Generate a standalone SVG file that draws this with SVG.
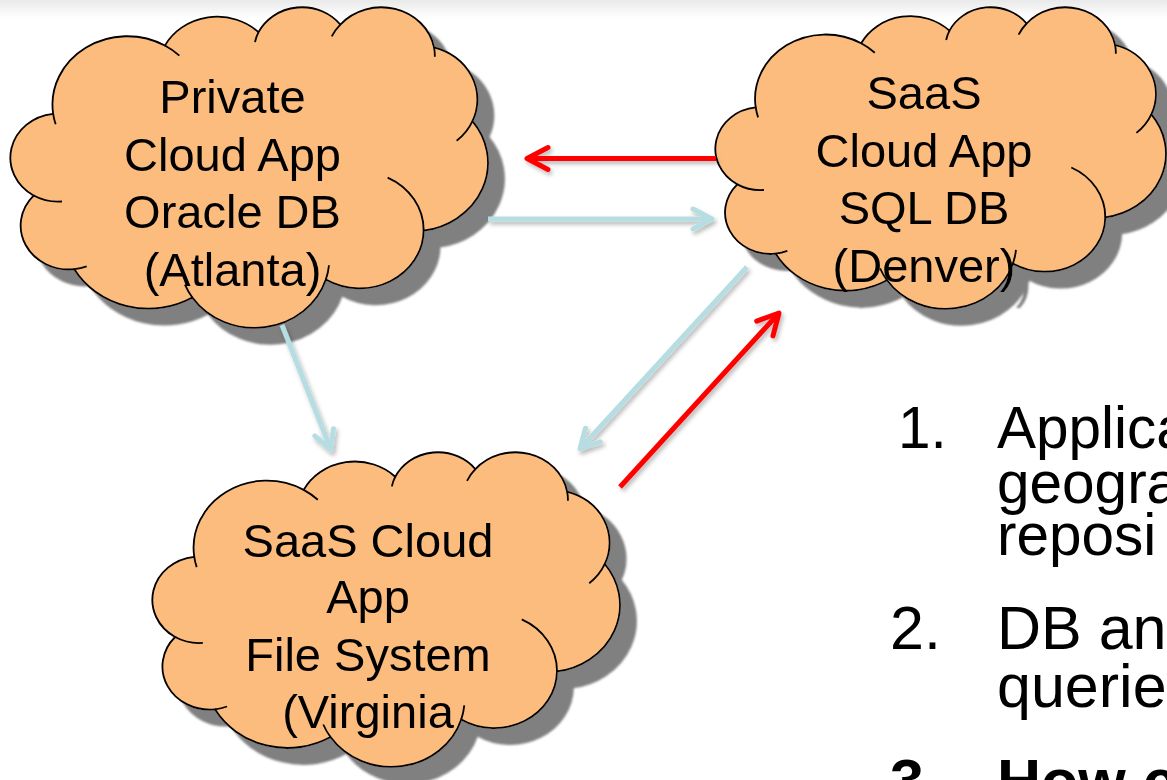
<svg xmlns="http://www.w3.org/2000/svg" xmlns:xlink="http://www.w3.org/1999/xlink" width="1167" height="780" viewBox="0 0 1167 780">
  <style>
    .body { fill: #FCBC7E; stroke: #000000; }
    .crease { fill: none; stroke: #000000; }
    .label { font-family: "Liberation Sans", Arial, sans-serif; font-size: 47px; fill: #000000; text-anchor: middle; }
    .item { font-family: "Liberation Sans", Arial, sans-serif; font-size: 61px; fill: #000000; }
    .first { font-size: 58.5px; }
    .bold { font-weight: bold; }
    .link-red { fill: none; stroke: #FF0000; stroke-width: 5; }
    .link-blue { fill: none; stroke: #B6DDE1; stroke-width: 5; }
  </style>
  <defs>
    <linearGradient id="topShade" x1="0" y1="0" x2="0" y2="1">
      <stop offset="0" stop-color="#E9E9E9"/>
      <stop offset="1" stop-color="#FFFFFF"/>
    </linearGradient>

    <!-- cloud outline drawn in a 43200 x 43200 unit box -->
    <path id="cloud-body" vector-effect="non-scaling-stroke" stroke-width="1.8"
      d="M3900,14370 A6753,9190 0 0 1 14000,5192 A5333,7267 0 0 1 22460,3390 A4365,5945 0 0 1 29850,2360 A4857,6595 0 0 1 38324,5426 A5333,7273 0 0 1 41798,15354 A6775,9220 0 0 1 37384,30098 A5785,7867 0 0 1 28545,36680 A6752,9215 0 0 1 16478,39090 A7720,10543 0 0 1 5810,35290 A4360,5918 0 0 1 2135,25372 A4345,5945 0 0 1 3900,14370 Z"/>
    <!-- inner puff lines of the cloud -->
    <path id="cloud-creases" vector-effect="non-scaling-stroke" stroke-width="1.8"
      d="M4693,26177 A4345,5945 0 0 1 2135,25372 M6928,34899 A4360,5918 0 0 1 5810,35290 M16478,39090 A6752,9215 0 0 1 15809,37371 M28827,34751 A6752,9215 0 0 1 28545,36680 M34129,22954 A5785,7867 0 0 1 37384,30098 M41798,15354 A5333,7273 0 0 1 40364,18007 M38324,5426 A4857,6595 0 0 1 38392,6695 M29078,3952 A4857,6595 0 0 1 29850,2360 M22141,4720 A4365,5945 0 0 1 22460,3390 M14000,5192 A6753,9190 0 0 1 15305,6550 M4127,15789 A6753,9190 0 0 1 3900,14370"/>

    <filter id="cloudShadow" filterUnits="userSpaceOnUse" x="0" y="0" width="1167" height="780">
      <feGaussianBlur in="SourceAlpha" stdDeviation="1.2"/>
      <feOffset dx="16" dy="16" result="shifted"/>
      <feFlood flood-color="#808080"/>
      <feComposite in2="shifted" operator="in"/>
      <feMerge>
        <feMergeNode/>
        <feMergeNode in="SourceGraphic"/>
      </feMerge>
    </filter>

    <filter id="linkShadow" filterUnits="userSpaceOnUse" x="0" y="0" width="1167" height="780">
      <feGaussianBlur in="SourceAlpha" stdDeviation="2"/>
      <feOffset dx="2" dy="3" result="soft"/>
      <feFlood flood-color="#000000" flood-opacity="0.28"/>
      <feComposite in2="soft" operator="in"/>
      <feMerge>
        <feMergeNode/>
        <feMergeNode in="SourceGraphic"/>
      </feMerge>
    </filter>

    <marker id="head-red" markerUnits="userSpaceOnUse" markerWidth="40" markerHeight="40" viewBox="-30 -20 40 40" refX="0" refY="0" orient="auto">
      <path d="M-21,-11 L0,0 L-21,11" fill="none" stroke="#FF0000" stroke-width="5" stroke-linecap="round" stroke-linejoin="round"/>
    </marker>
    <marker id="head-blue" markerUnits="userSpaceOnUse" markerWidth="40" markerHeight="40" viewBox="-30 -20 40 40" refX="0" refY="0" orient="auto">
      <path d="M-19,-10 L0,0 L-19,10" fill="none" stroke="#B6DDE1" stroke-width="5" stroke-linecap="round" stroke-linejoin="round"/>
    </marker>
  </defs>

  <rect x="0" y="0" width="1167" height="780" fill="#FFFFFF"/>
  <rect x="0" y="0" width="1167" height="18" fill="url(#topShade)"/>

  <g id="atlanta" filter="url(#cloudShadow)">
    <g transform="translate(10,7) scale(0.011065,0.0074306)">
      <use xlink:href="#cloud-body" class="body"/>
      <use xlink:href="#cloud-creases" class="crease"/>
    </g>
    <text class="label" x="232.5" y="113">Private</text>
    <text class="label" x="232.5" y="170.7">Cloud App</text>
    <text class="label" x="232.5" y="228.3">Oracle DB</text>
    <text class="label" x="232.5" y="286">(Atlanta)</text>
  </g>

  <g id="denver" filter="url(#cloudShadow)">
    <g transform="translate(715,7) scale(0.0104398,0.0069907)">
      <use xlink:href="#cloud-body" class="body"/>
      <use xlink:href="#cloud-creases" class="crease"/>
    </g>
    <text class="label" x="924" y="109">SaaS</text>
    <text class="label" x="924" y="166.5">Cloud App</text>
    <text class="label" x="924" y="224">SQL DB</text>
    <text class="label" x="924" y="281.5">(Denver)</text>
  </g>

  <g id="virginia" filter="url(#cloudShadow)">
    <g transform="translate(152,452) scale(0.0108333,0.0072917)">
      <use xlink:href="#cloud-body" class="body"/>
      <use xlink:href="#cloud-creases" class="crease"/>
    </g>
    <text class="label" x="368" y="556.7">SaaS Cloud</text>
    <text class="label" x="368" y="613.3">App</text>
    <text class="label" x="368" y="670.7">File System</text>
    <text class="label" x="368" y="728.3">(Virginia</text>
  </g>

  <g id="connectors" filter="url(#linkShadow)">
    <path class="link-red" d="M716,158.5 L527,158.5" marker-end="url(#head-red)"/>
    <path class="link-blue" d="M488,219 L712,219" marker-end="url(#head-blue)"/>
    <path class="link-blue" d="M747,267 L580,449" marker-end="url(#head-blue)"/>
    <path class="link-red" d="M620,487 L779,313" marker-end="url(#head-red)"/>
    <path class="link-blue" d="M282,325 L331,450" marker-end="url(#head-blue)"/>
  </g>

  <g id="notes">
    <text class="item first" x="898" y="448">1.</text>
    <text class="item first" x="997" y="448">Applica</text>
    <text class="item first" x="997" y="503">geogra</text>
    <text class="item first" x="997" y="555">reposi</text>
    <text class="item" x="890" y="649">2.</text>
    <text class="item" x="997" y="649">DB an</text>
    <text class="item" x="997" y="707">querie</text>
    <text class="item bold" x="890" y="802">3.</text>
    <text class="item bold" x="997" y="802">How c</text>
  </g>
</svg>
